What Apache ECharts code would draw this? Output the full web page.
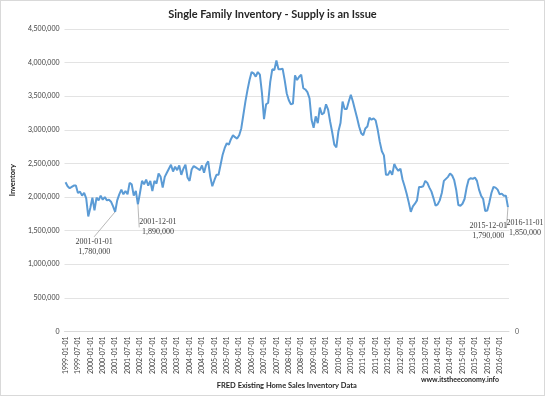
<!DOCTYPE html>
<html>
<head>
<meta charset="utf-8">
<script src="https://cdn.jsdelivr.net/npm/echarts@6/dist/echarts.min.js"></script>
<style>
  html, body { margin: 0; padding: 0; background: #fff; }
  #chart { width: 545px; height: 396px; box-sizing: border-box; border: 1px solid #d9d9d9; }
</style>
</head>
<body>
<div id="chart"></div>
<script>
// monthly inventory, thousands of homes
var years = [1999, 2000, 2001, 2002, 2003, 2004, 2005, 2006, 2007, 2008, 2009, 2010, 2011, 2012, 2013, 2014, 2015, 2016];
var v1999 = [2220, 2160, 2130, 2150, 2170, 2170, 2060, 2080, 2020, 2060, 1980, 1710];
var v2000 = [1840, 1990, 1800, 1990, 1950, 2020, 1960, 2000, 1950, 1960, 1930, 1860];
var v2001 = [1780, 1950, 2040, 2110, 2040, 2090, 2040, 2210, 2190, 2020, 2090, 1890];
var v2002 = [2060, 2240, 2190, 2260, 2170, 2240, 2090, 2240, 2200, 2350, 2300, 2140];
var v2003 = [2300, 2360, 2420, 2480, 2380, 2450, 2400, 2470, 2330, 2420, 2480, 2290];
var v2004 = [2240, 2410, 2460, 2440, 2420, 2400, 2470, 2360, 2480, 2530, 2300, 2160];
var v2005 = [2250, 2330, 2330, 2480, 2630, 2730, 2800, 2780, 2860, 2920, 2890, 2870];
var v2006 = [2920, 3020, 3220, 3420, 3590, 3740, 3860, 3840, 3790, 3860, 3820, 3550];
var v2007 = [3160, 3380, 3400, 3710, 3900, 3890, 4030, 3900, 3900, 3910, 3740, 3540];
var v2008 = [3440, 3380, 3390, 3810, 3740, 3790, 3820, 3620, 3600, 3560, 3470, 3150];
var v2009 = [3030, 3200, 3100, 3330, 3230, 3250, 3380, 3300, 3120, 2960, 2780, 2740];
var v2010 = [2980, 3100, 3420, 3310, 3310, 3420, 3520, 3420, 3300, 3180, 3050, 2950];
var v2011 = [2920, 3020, 3050, 3180, 3150, 3170, 3140, 3000, 2820, 2680, 2620, 2330];
var v2012 = [2330, 2390, 2330, 2490, 2430, 2390, 2420, 2260, 2160, 2050, 1920, 1780];
var v2013 = [1860, 1900, 1950, 2150, 2150, 2160, 2240, 2210, 2140, 2080, 1980, 1870];
var v2014 = [1890, 1950, 2060, 2240, 2270, 2300, 2350, 2320, 2250, 2100, 1880, 1870];
var v2015 = [1900, 1970, 2140, 2260, 2280, 2270, 2290, 2240, 2110, 2020, 1970, 1790];
var v2016 = [1800, 1920, 2060, 2150, 2140, 2110, 2040, 2050, 2020, 2020, 1850];

var yearValues = [v1999, v2000, v2001, v2002, v2003, v2004, v2005, v2006, v2007, v2008,
                  v2009, v2010, v2011, v2012, v2013, v2014, v2015, v2016];

// points that carry a data label, with how far the label is nudged
var labelled = ['2001-01-01', '2001-12-01', '2015-12-01', '2016-11-01'];
var labelShift = {
    '2001-01-01': [-21, 23, true],
    '2001-12-01': [20, 11, true],
    '2015-12-01': [3, 8, false],
    '2016-11-01': [17, 9, true]
};

var dates = [];
var values = [];
years.forEach(function(y, k) {
    yearValues[k].forEach(function(v, m) {
        var mm = m + 1 < 10 ? '0' + (m + 1) : '' + (m + 1);
        dates.push(y + '-' + mm + '-01');
        values.push(v * 1000);
    });
});

function fmt(n) {
    return String(n).replace(/\B(?=(\d{3})+(?!\d))/g, ',');
}

var seriesData = values.map(function(v, i) {
    var d = dates[i];
    if (labelled.indexOf(d) < 0) return v;
    return {
        value: v,
        label: { show: true },
        labelLine: { show: labelShift[d][2] }
    };
});

var chart = echarts.init(document.getElementById('chart'));
var font = 'Lato, "Open Sans", sans-serif';
var option = {
    animation: false,
    title: [{
        text: 'Single Family Inventory - Supply is an Issue',
        left: 'center',
        top: 3,
        textStyle: { fontFamily: font, fontSize: 11, fontWeight: 'bold', color: '#262626' }
    }, {
        text: 'www.itstheeconomy.info',
        right: 40,
        bottom: 7,
        textStyle: { fontFamily: font, fontSize: 7, fontWeight: 'bold', color: '#262626' }
    }],
    grid: { left: 55, right: 35, top: 28, bottom: 60 },
    xAxis: {
        type: 'category',
        data: dates,
        boundaryGap: true,
        name: 'FRED Existing Home Sales Inventory Data',
        nameLocation: 'middle',
        nameGap: 44,
        nameTextStyle: { fontFamily: font, fontSize: 7.5, fontWeight: 'bold', color: '#262626' },
        axisLine: { lineStyle: { color: '#d9d9d9' } },
        axisTick: { show: false },
        axisLabel: {
            interval: 5,
            rotate: 90,
            fontFamily: font,
            fontSize: 7,
            color: '#404040',
            margin: 5
        }
    },
    yAxis: [{
        type: 'value',
        min: 0,
        max: 4500000,
        interval: 500000,
        name: 'Inventory',
        nameLocation: 'middle',
        nameGap: 44,
        nameTextStyle: { fontFamily: font, fontSize: 7.5, fontWeight: 'bold', color: '#262626' },
        axisLine: { show: false },
        axisTick: { show: false },
        splitLine: { lineStyle: { color: '#e3e3e3' } },
        axisLabel: {
            fontFamily: font,
            fontSize: 7,
            color: '#404040',
            margin: 5,
            formatter: function(v) { return fmt(v); }
        }
    }, {
        type: 'value',
        position: 'right',
        min: 0,
        max: 4500000,
        interval: 500000,
        axisLine: { show: false },
        axisTick: { show: false },
        splitLine: { show: false },
        axisLabel: {
            fontFamily: font,
            fontSize: 7,
            color: '#595959',
            margin: 6,
            formatter: function(v) { return v === 0 ? '0' : ''; }
        }
    }],
    series: [{
        type: 'line',
        data: seriesData,
        showSymbol: true,
        showAllSymbol: true,
        symbol: 'circle',
        symbolSize: 0,
        lineStyle: { color: '#5b9bd5', width: 2 },
        itemStyle: { color: '#5b9bd5' },
        label: {
            show: false,
            position: 'bottom',
            distance: 2,
            fontFamily: '"Liberation Serif", serif',
            fontSize: 8,
            lineHeight: 10,
            color: '#404040',
            formatter: function(p) { return p.name + '\n' + fmt(p.value); }
        },
        labelLine: { show: true, lineStyle: { color: '#a6a6a6', width: 0.8 } },
        labelLayout: function(p) {
            var s = labelShift[dates[p.dataIndex]];
            if (!s) return {};
            return { dx: s[0], dy: s[1] };
        }
    }]
};
chart.setOption(option);
</script>
</body>
</html>
